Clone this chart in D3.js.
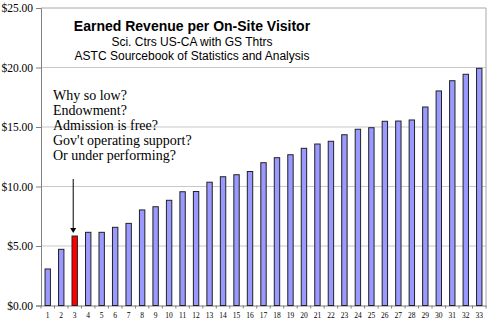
<!DOCTYPE html>
<html><head><meta charset="utf-8">
<script src="https://cdn.jsdelivr.net/npm/d3@7"></script>
<style>body{margin:0;background:#fff}svg{display:block}</style>
</head><body>
<script>
const categories = d3.range(1, 34).map(String);
const values = [3.07, 4.72, 5.84, 6.15, 6.15, 6.57, 6.90, 8.03, 8.30, 8.84, 9.56, 9.58, 10.36, 10.82, 10.99, 11.26, 12.00, 12.42, 12.67, 13.21, 13.57, 13.80, 14.35, 14.81, 14.94, 15.48, 15.50, 15.59, 16.68, 18.03, 18.89, 19.43, 19.93];
const highlight = "3";
const yTicks = [0, 5, 10, 15, 20, 25];
const titleLines = ["Earned Revenue per On-Site Visitor", "Sci. Ctrs US-CA with GS Thtrs", "ASTC Sourcebook of Statistics and Analysis"];
const noteLines = ["Why so low?", "Endowment?", "Admission is free?", "Gov't operating support?", "Or under performing?"];

const W = 490, H = 323;
const m = {left: 41, right: 4, top: 8, bottom: 17.5};
const svg = d3.select("body").append("svg").attr("width", W).attr("height", H);
const x = d3.scaleBand().domain(categories).range([m.left, W - m.right]).paddingInner(0.6).paddingOuter(0.3);
const y = d3.scaleLinear().domain([0, 25]).range([H - m.bottom, m.top]);

// grid
svg.append("g").selectAll("line").data(yTicks.filter(d => d > 0 && d < 25)).join("line")
  .attr("x1", m.left).attr("x2", W - m.right)
  .attr("y1", d => y(d)).attr("y2", d => y(d))
  .attr("stroke", "#c8c8c8").attr("stroke-width", 1);
// border top/right
svg.append("path").attr("d", `M${m.left},${y(25)}H${W - m.right}V${y(0)}`)
  .attr("fill", "none").attr("stroke", "#a8a8a8");

// y axis
const yAxis = svg.append("g").attr("transform", `translate(${m.left},0)`)
  .call(d3.axisLeft(y).tickValues(yTicks).tickFormat(d => "$" + d3.format(".2f")(d)).tickSize(5).tickPadding(3));
yAxis.select(".domain").attr("stroke", "#808080");
yAxis.selectAll(".tick line").attr("stroke", "#808080");
yAxis.selectAll("text").attr("font-family", "'Liberation Serif', 'Times New Roman', serif").attr("font-size", 11.5).attr("fill", "#000");

// x axis
const xAxis = svg.append("g").attr("transform", `translate(0,${y(0)})`)
  .call(d3.axisBottom(x).tickSize(0).tickPadding(7));
xAxis.select(".domain").attr("stroke", "#808080");
xAxis.selectAll("text").attr("font-family", "'Liberation Serif', 'Times New Roman', serif").attr("font-size", 7.5).attr("fill", "#000");
svg.append("g").selectAll("line").data(d3.range(categories.length + 1)).join("line")
  .attr("x1", i => m.left + (x.range()[1] - x.range()[0]) * i / categories.length)
  .attr("x2", i => m.left + (x.range()[1] - x.range()[0]) * i / categories.length)
  .attr("y1", y(0)).attr("y2", y(0) + 3).attr("stroke", "#808080");

// bars
svg.append("g").selectAll("rect").data(categories).join("rect")
  .attr("x", d => x(d)).attr("width", x.bandwidth())
  .attr("y", (d, i) => y(values[i])).attr("height", (d, i) => y(0) - y(values[i]))
  .attr("fill", d => d === highlight ? "#ff0000" : "#9999ff")
  .attr("stroke", "#222").attr("stroke-width", 1);

// title
const tx = 192;
svg.append("text").attr("x", tx).attr("y", 31).attr("text-anchor", "middle")
  .attr("font-family", "'Liberation Sans', Arial, sans-serif").attr("font-weight", "bold").attr("font-size", 14).text(titleLines[0]);
svg.append("text").attr("x", tx).attr("y", 46).attr("text-anchor", "middle")
  .attr("font-family", "'Liberation Sans', Arial, sans-serif").attr("font-size", 12).text(titleLines[1]);
svg.append("text").attr("x", tx).attr("y", 60).attr("text-anchor", "middle")
  .attr("font-family", "'Liberation Sans', Arial, sans-serif").attr("font-size", 12).text(titleLines[2]);

// notes
svg.append("g").selectAll("text").data(noteLines).join("text")
  .attr("x", 53).attr("y", (d, i) => 100 + i * 15.1)
  .attr("font-family", "'Liberation Serif', 'Times New Roman', serif").attr("font-size", 14).text(d => d);

// arrow
const ax = x(highlight) + x.bandwidth() / 2 - 1.5;
const tip = y(values[2]) - 3;
svg.append("line").attr("x1", ax).attr("x2", ax).attr("y1", 179).attr("y2", tip - 4).attr("stroke", "#000").attr("stroke-width", 1);
svg.append("path").attr("d", `M${ax - 3},${tip - 5}L${ax + 3},${tip - 5}L${ax},${tip}Z`).attr("fill", "#000");
</script>
</body></html>
